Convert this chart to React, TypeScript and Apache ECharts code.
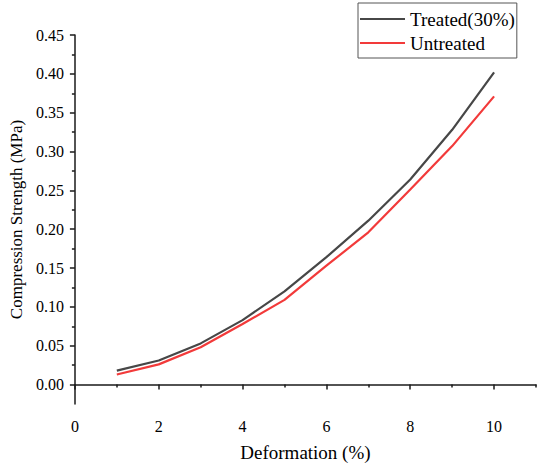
import React, { useEffect, useRef } from "react";
import * as echarts from "echarts";

const deformation = [1, 2, 3, 4, 5, 6, 7, 8, 9, 10];
const treated = [0.018, 0.031, 0.053, 0.083, 0.12, 0.164, 0.211, 0.264, 0.328, 0.402];
const untreated = [0.013, 0.026, 0.048, 0.078, 0.109, 0.153, 0.196, 0.251, 0.307, 0.371];
const yMajorTicks = [0, 0.05, 0.1, 0.15, 0.2, 0.25, 0.3, 0.35, 0.4, 0.45];
const yMinorTicks = [0.025, 0.075, 0.125, 0.175, 0.225, 0.275, 0.325, 0.375, 0.425];
const xMajorTicks = [0, 2, 4, 6, 8, 10];
const xMinorTicks = [1, 3, 5, 7, 9, 11];
const seriesNames = ["Treated(30%)", "Untreated"];

const FONT = "Liberation Serif";
const AXIS_COLOR = "#1a1a1a";

const isMajor = (v: number, list: number[]) => list.some((t) => Math.abs(t - v) < 1e-6);

export default function App() {
  const ref = useRef<HTMLDivElement>(null);
  useEffect(() => {
    if (!ref.current) return;
    const chart = echarts.init(ref.current, null, { renderer: "svg" });
    const axisLine = { show: true, lineStyle: { color: AXIS_COLOR, width: 1.5 } };
    const tickText = { fontFamily: FONT, fontSize: 16, color: "#000" };
    chart.setOption({
      animation: false,
      backgroundColor: "#fff",
      textStyle: { fontFamily: FONT },
      grid: { left: 74, right: 4, top: 35, bottom: 60 },
      legend: {
        orient: "vertical",
        left: 358,
        top: 3,
        padding: [6, 2, 5, 2],
        icon: "rect",
        itemWidth: 45,
        itemHeight: 2,
        itemGap: 4,
        borderColor: "#555",
        borderWidth: 1,
        textStyle: { fontFamily: FONT, fontSize: 19, color: "#000", lineHeight: 20 },
        data: seriesNames,
      },
      xAxis: [
        {
          type: "value",
          min: 0,
          max: 11,
          interval: 1,
          position: "bottom",
          name: "Deformation (%)",
          nameLocation: "middle",
          nameGap: 39,
          nameTextStyle: { fontFamily: FONT, fontSize: 19, color: "#000" },
          axisLine,
          splitLine: { show: false },
          axisTick: { show: true, inside: false, length: 5, customValues: xMajorTicks, lineStyle: { color: AXIS_COLOR, width: 1.5 } },
          axisLabel: {
            ...tickText,
            margin: 14,
            showMaxLabel: true,
            formatter: (v: number) => (isMajor(v, xMajorTicks) ? String(v) : ""),
          },
        },
        {
          type: "value",
          min: 0,
          max: 11,
          position: "bottom",
          axisLine: { show: false },
          splitLine: { show: false },
          axisTick: { show: true, inside: false, length: 3, customValues: xMinorTicks, lineStyle: { color: AXIS_COLOR, width: 1.5 } },
          axisLabel: { show: false },
        },
      ],
      yAxis: [
        {
          type: "value",
          min: -0.025,
          max: 0.45,
          interval: 0.025,
          position: "left",
          name: "Compression Strength (MPa)",
          nameLocation: "middle",
          nameGap: 45,
          nameTextStyle: { fontFamily: FONT, fontSize: 17, color: "#000" },
          axisLine,
          splitLine: { show: false },
          axisTick: { show: true, inside: false, length: 5, customValues: yMajorTicks, lineStyle: { color: AXIS_COLOR, width: 1.5 } },
          axisLabel: {
            ...tickText,
            margin: 11,
            showMaxLabel: true,
            formatter: (v: number) => (isMajor(v, yMajorTicks) ? v.toFixed(2) : ""),
          },
        },
        {
          type: "value",
          min: -0.025,
          max: 0.45,
          position: "left",
          axisLine: { show: false },
          splitLine: { show: false },
          axisTick: { show: true, inside: false, length: 3, customValues: yMinorTicks, lineStyle: { color: AXIS_COLOR, width: 1.5 } },
          axisLabel: { show: false },
        },
      ],
      series: [
        {
          name: seriesNames[0],
          type: "line",
          xAxisIndex: 0,
          yAxisIndex: 0,
          symbol: "none",
          lineStyle: { color: "#474747", width: 2.2 },
          itemStyle: { color: "#474747" },
          data: deformation.map((x, i) => [x, treated[i]]),
        },
        {
          name: seriesNames[1],
          type: "line",
          xAxisIndex: 0,
          yAxisIndex: 0,
          symbol: "none",
          lineStyle: { color: "#f23a3a", width: 2.2 },
          itemStyle: { color: "#f23a3a" },
          data: deformation.map((x, i) => [x, untreated[i]]),
        },
      ],
    });
    return () => chart.dispose();
  }, []);
  return <div ref={ref} style={{ width: 540, height: 467, position: "absolute", left: 0, top: 0 }} />;
}
